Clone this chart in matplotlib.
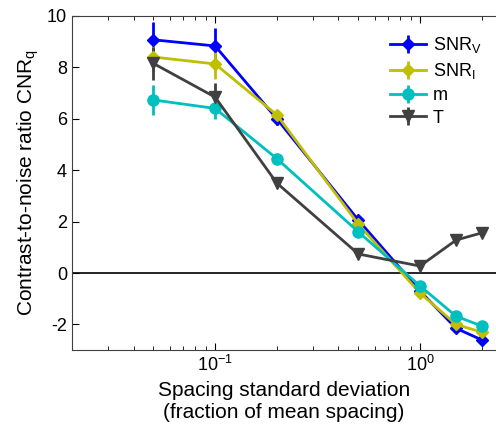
import matplotlib
matplotlib.use("Agg")
import matplotlib.pyplot as plt
import numpy as np

plt.rcParams['font.family'] = ['Liberation Sans', 'DejaVu Sans']
plt.rcParams['mathtext.fontset'] = 'custom'
plt.rcParams['mathtext.rm'] = 'Liberation Sans'
plt.rcParams['axes.unicode_minus'] = False

x = [0.05, 0.1, 0.2, 0.5, 1.0, 1.5, 2.0]
snr_v = [9.07, 8.83, 6.0, 2.06, -0.7, -2.15, -2.6]
snr_v_err = [0.7, 0.7, 0.25, 0.1, 0.1, 0.1, 0.1]
snr_i = [8.4, 8.13, 6.15, 1.9, -0.78, -2.0, -2.3]
snr_i_err = [0.6, 0.6, 0.2, 0.1, 0.1, 0.1, 0.1]
m_vals = [6.73, 6.4, 4.45, 1.6, -0.5, -1.68, -2.06]
m_err = [0.6, 0.4, 0.15, 0.1, 0.1, 0.1, 0.1]
t_vals = [8.15, 6.84, 3.5, 0.74, 0.27, 1.28, 1.56]
t_err = [0.65, 0.55, 0.2, 0.1, 0.1, 0.1, 0.1]

labels = ['SNR$_\\mathregular{V}$', 'SNR$_\\mathregular{I}$', 'm', 'T']
colors = ['#0000ff', '#bfbf00', '#00bfbf', '#404040']
markers = ['D', 'D', 'o', 'v']
msizes = [6, 6, 8, 8]

fig = plt.figure(figsize=(4.96, 4.41), dpi=100)
ax = fig.add_axes([0.145, 0.206, 0.855, 0.758])

ax.axhline(0, color='black', lw=1.2, zorder=1)
for y, e, c, mk, ms, lab in zip([snr_v, snr_i, m_vals, t_vals],
                                [snr_v_err, snr_i_err, m_err, t_err],
                                colors, markers, msizes, labels):
    ax.errorbar(x, y, yerr=e, color=c, marker=mk, ms=ms, lw=2, elinewidth=2,
                capsize=0, label=lab, zorder=3)

ax.set_xscale('log')
ax.set_xlim(0.02, 2.35)
ax.set_ylim(-3, 10)
ax.set_yticks([-2, 0, 2, 4, 6, 8, 10])
ax.tick_params(which='both', direction='in', top=True, right=False, labelsize=13)
ax.tick_params(which='major', length=5)
ax.tick_params(which='minor', length=3)
for s in ['left', 'bottom', 'top']:
    ax.spines[s].set_color('#404040')
ax.spines['right'].set_visible(False)

ax.set_xlabel('Spacing standard deviation\n(fraction of mean spacing)', fontsize=15)
ax.set_ylabel('Contrast-to-noise ratio CNR$_\\mathregular{q}$', fontsize=15)

leg = ax.legend(loc='upper right', bbox_to_anchor=(1.0, 0.985), fontsize=13,
                frameon=True, fancybox=False, edgecolor='white', framealpha=1,
                handlelength=2.0, handletextpad=0.4, borderpad=0.3,
                labelspacing=0.32)

fig.savefig('out.png', dpi=100)
